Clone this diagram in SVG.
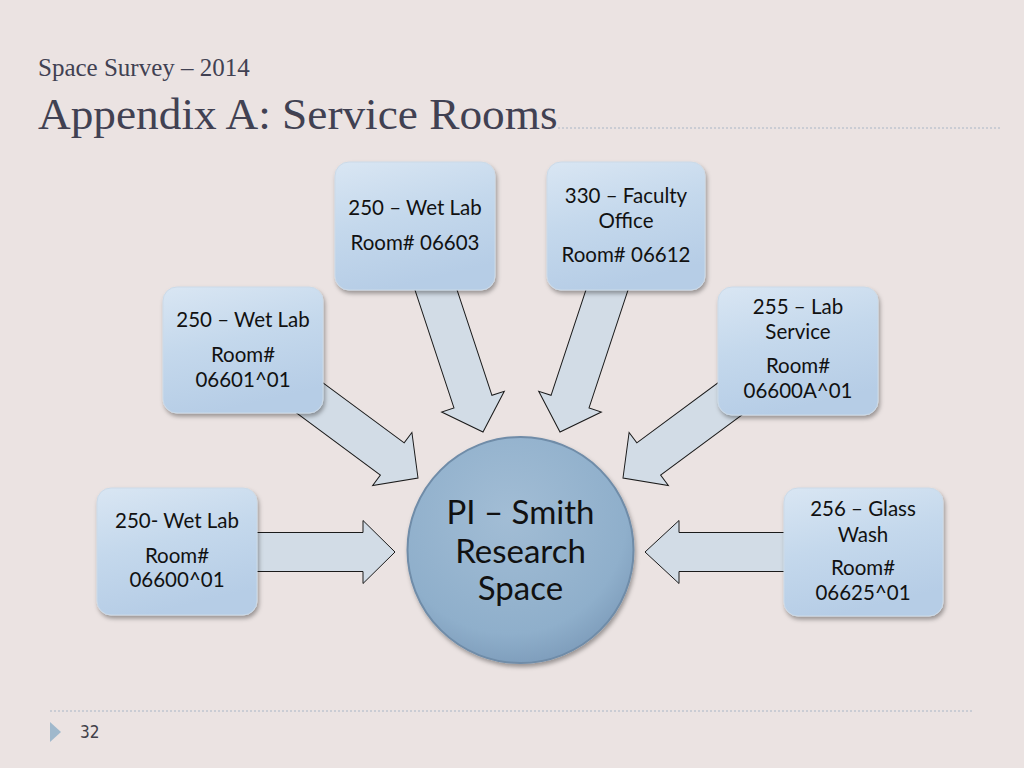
<svg xmlns="http://www.w3.org/2000/svg" width="1024" height="768" viewBox="0 0 1024 768">
  <defs>
    <linearGradient id="boxGrad" x1="0" y1="0" x2="0.3" y2="1">
      <stop offset="0" stop-color="#d9e6f3"/>
      <stop offset="0.5" stop-color="#c4d8ec"/>
      <stop offset="1" stop-color="#b6cde6"/>
    </linearGradient>
    <radialGradient id="circGrad" cx="0.45" cy="0.35" r="0.65">
      <stop offset="0" stop-color="#a2bdd5"/>
      <stop offset="0.8" stop-color="#8fafcb"/>
      <stop offset="1" stop-color="#809fbd"/>
    </radialGradient>
    <filter id="shadow" x="-20%" y="-20%" width="140%" height="140%">
      <feDropShadow dx="1.5" dy="3" stdDeviation="2" flood-color="#000" flood-opacity="0.35"/>
    </filter>
    <path id="arrowShape" d="M-170,-20 L-32,-20 L-32,-33 L0,0 L-32,33 L-32,20 L-170,20 Z"/>
  </defs>
  <style>
    .title { font-family: "Liberation Serif", serif; fill: #414152; }
    .arrow { fill: #d2dce6; stroke: #1a1a1a; stroke-width: 1; stroke-linejoin: miter; }
    .box { fill: url(#boxGrad); stroke: #cbdae8; stroke-width: 1; filter: url(#shadow); }
    .lbl { font-family: Lato, "Open Sans", sans-serif; font-size: 20.5px; fill: #111; text-anchor: middle; }
    .clbl { font-family: Lato, "Open Sans", sans-serif; font-size: 33px; fill: #111; text-anchor: middle; }
    .dots { stroke: #a9b6c6; stroke-width: 1; stroke-dasharray: 2 2; fill: none; }
  </style>

  <rect x="0" y="0" width="1024" height="768" fill="#ebe3e2"/>

  <text class="title" x="38" y="76" font-size="25">Space Survey – 2014</text>
  <text class="title" x="38" y="129" font-size="45.3">Appendix A: Service Rooms</text>
  <line class="dots" x1="558" y1="128" x2="1000" y2="128"/>

  <g id="connectors">
    <!-- box1 to circle -->
    <use href="#arrowShape" class="arrow" transform="translate(483,432) rotate(71.7)"/>
    <!-- box2 to circle -->
    <use href="#arrowShape" class="arrow" transform="translate(560,432) rotate(108.3)"/>
    <!-- box3 to circle -->
    <use href="#arrowShape" class="arrow" transform="translate(418,478) rotate(36.5)"/>
    <!-- box4 to circle -->
    <use href="#arrowShape" class="arrow" transform="translate(623,478) rotate(143.5)"/>
    <!-- box5 to circle -->
    <path class="arrow" d="M235,532.5 L363,532.5 L363,520.5 L395,552 L363,583.5 L363,571.5 L235,571.5 Z"/>
    <!-- box6 to circle -->
    <path class="arrow" d="M805,532.5 L679,532.5 L679,520.5 L645,552 L679,583.5 L679,571.5 L805,571.5 Z"/>
  </g>

  <g id="node-center">
    <circle cx="520.5" cy="550" r="113" fill="url(#circGrad)" stroke="#6f8ca8" stroke-width="2" filter="url(#shadow)"/>
    <text class="clbl" x="520.5" y="524">PI – Smith</text>
    <text class="clbl" x="520.5" y="563">Research</text>
    <text class="clbl" x="520.5" y="600">Space</text>
  </g>

  <g id="node-06603">
    <rect class="box" x="335" y="162" width="160" height="128" rx="14"/>
    <text class="lbl" x="415" y="215">250 – Wet Lab</text>
    <text class="lbl" x="415" y="250">Room# 06603</text>
  </g>

  <g id="node-06612">
    <rect class="box" x="547" y="162" width="158" height="128" rx="14"/>
    <text class="lbl" x="626" y="203">330 – Faculty</text>
    <text class="lbl" x="626" y="228">Office</text>
    <text class="lbl" x="626" y="262">Room# 06612</text>
  </g>

  <g id="node-06601-01">
    <rect class="box" x="163" y="287" width="160" height="126" rx="14"/>
    <text class="lbl" x="243" y="327">250 – Wet Lab</text>
    <text class="lbl" x="243" y="362">Room#</text>
    <text class="lbl" x="243" y="387">06601^01</text>
  </g>

  <g id="node-06600A-01">
    <rect class="box" x="718" y="287" width="160" height="128" rx="14"/>
    <text class="lbl" x="798" y="314">255 – Lab</text>
    <text class="lbl" x="798" y="339">Service</text>
    <text class="lbl" x="798" y="373">Room#</text>
    <text class="lbl" x="798" y="398">06600A^01</text>
  </g>

  <g id="node-06600-01">
    <rect class="box" x="97" y="488" width="160" height="127" rx="14"/>
    <text class="lbl" x="177" y="528">250- Wet Lab</text>
    <text class="lbl" x="177" y="563">Room#</text>
    <text class="lbl" x="177" y="587">06600^01</text>
  </g>

  <g id="node-06625-01">
    <rect class="box" x="784" y="488" width="159" height="128" rx="14"/>
    <text class="lbl" x="863" y="516">256 – Glass</text>
    <text class="lbl" x="863" y="542">Wash</text>
    <text class="lbl" x="863" y="575">Room#</text>
    <text class="lbl" x="863" y="600">06625^01</text>
  </g>

  <line class="dots" x1="50" y1="711" x2="973" y2="711"/>
  <polygon points="50,722 61,732 50,742" fill="#9fb8cc"/>
  <text x="80" y="738" font-family="'DejaVu Sans Condensed', 'Liberation Sans', sans-serif" font-stretch="condensed" font-size="17" fill="#404048">32</text>
</svg>
